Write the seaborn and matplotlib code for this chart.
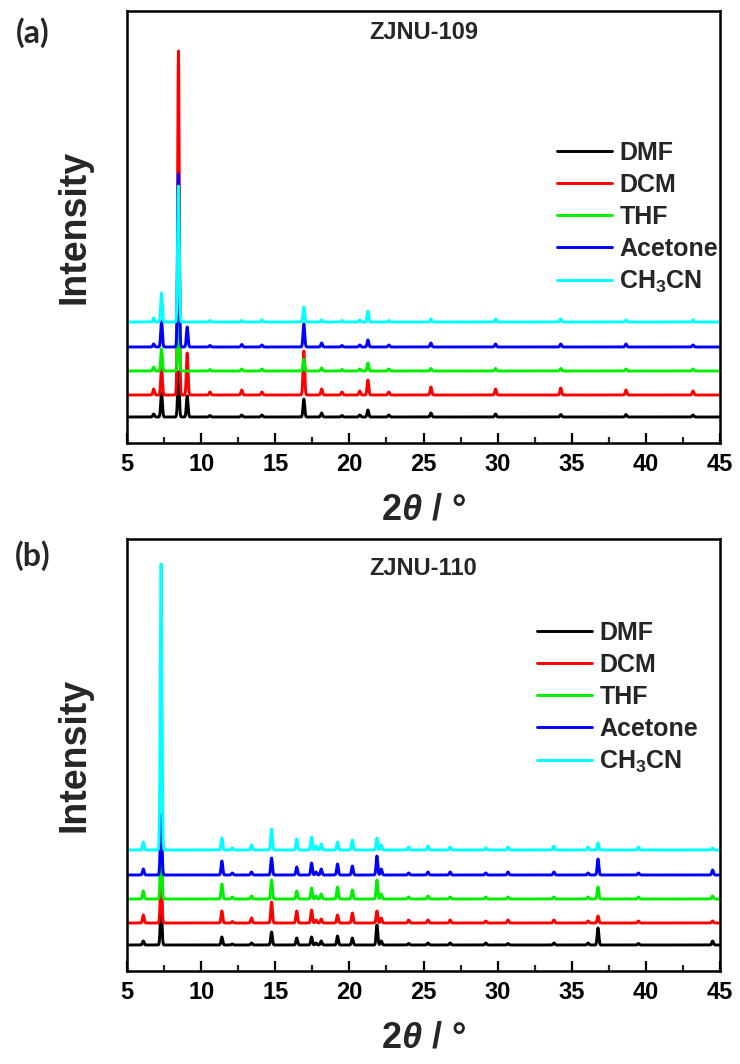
import numpy as np
import pandas as pd
import matplotlib
matplotlib.use("Agg")
import matplotlib.pyplot as plt
import seaborn as sns

# ---------------------------------------------------------------------------
# PXRD patterns of ZJNU-109 and ZJNU-110 after soaking in different solvents.
# Each pattern is described by its reflections: 2-theta position (deg) and
# peak height (arbitrary units, same scale as the stacked offsets).
# ---------------------------------------------------------------------------
solvents = ["DMF", "DCM", "THF", "Acetone", "CH3CN"]
legend_labels = ["DMF", "DCM", "THF", "Acetone", r"CH$_\mathbf{3}$CN"]
colors = ["#000000", "#FF0000", "#00F000", "#0000FF", "#00FFFF"]

# vertical offsets of the stacked traces
offsets = [26, 48, 72, 96, 121]

# --- ZJNU-109 -------------------------------------------------------------
pos_109 = [6.8, 7.33, 8.47, 9.06, 10.6, 12.74, 14.1, 16.93, 18.13, 19.5,
           20.7, 21.25, 22.66, 25.5, 29.86, 34.26, 38.66, 43.18]
h109_dmf = [3, 24, 45, 21, 1.5, 2, 2, 18, 4, 1.5, 2, 7, 2, 4, 3, 2.5, 2.5, 2]
h109_dcm = [6, 27, 344, 42, 3, 5, 3, 44, 6, 3, 4, 15, 3, 8, 6, 7, 5, 4]
h109_thf = [4, 22, 60, 0, 1.5, 2, 2, 12, 3, 1.5, 2, 8, 2, 2.5, 2.5, 2.5, 2, 2]
h109_ace = [3, 26, 173, 20, 1.5, 2.5, 2, 23, 4, 1.5, 2, 7, 2, 4, 3, 3, 3, 2]
h109_mecn = [4, 29, 136, 0, 1.5, 1.5, 2, 15, 2, 1.5, 2, 11, 1.5, 3, 3, 3, 2, 2]

# --- ZJNU-110 -------------------------------------------------------------
pos_110 = [6.1, 7.3, 11.4, 12.1, 13.4, 14.75, 16.45, 17.45, 17.75, 18.1,
           19.2, 20.2, 21.86, 22.15, 24.0, 25.3, 26.8, 29.2, 30.7, 33.8,
           36.1, 36.77, 39.5, 44.5]
h110_dmf = [4, 40, 8, 1, 2, 13, 7, 8, 2, 4, 9, 7, 20, 4, 1.5, 2, 2, 2, 1.5,
            2, 2, 17, 1.5, 4]
h110_dcm = [8, 50, 12, 1.5, 5, 21, 12, 13, 3, 4, 8, 10, 12, 5, 3, 3, 3, 2,
            3, 3, 2, 7, 2, 2]
h110_thf = [8, 60, 15, 2, 3, 19, 8, 11, 3, 5, 12, 9, 19, 5, 2, 3, 2, 2, 2,
            2, 2, 12, 2, 3]
h110_ace = [6, 60, 14, 2, 3, 17, 8, 12, 3, 6, 11, 9, 19, 6, 2, 3, 3, 2, 3,
            3, 2, 16, 2, 5]
h110_mecn = [8, 286, 12, 2, 5, 21, 11, 13, 4, 6, 8, 10, 12, 5, 3, 4, 3, 2, 3,
             4, 3, 7, 3, 2]

two_theta = np.arange(5.0, 45.0001, 0.01)
PEAK_SIGMA = 0.055


def pattern(positions, heights, offset):
    """Sum of narrow Gaussian reflections on a flat baseline."""
    y = np.full_like(two_theta, float(offset))
    for p, h in zip(positions, heights):
        y += h * np.exp(-0.5 * ((two_theta - p) / PEAK_SIGMA) ** 2)
    return y


def long_frame(positions, height_sets):
    frames = []
    for name, hs, off in zip(solvents, height_sets, offsets):
        frames.append(pd.DataFrame({"two_theta": two_theta,
                                    "intensity": pattern(positions, hs, off),
                                    "solvent": name}))
    return pd.concat(frames, ignore_index=True)


df109 = long_frame(pos_109, [h109_dmf, h109_dcm, h109_thf, h109_ace, h109_mecn])
df110 = long_frame(pos_110, [h110_dmf, h110_dcm, h110_thf, h110_ace, h110_mecn])

# ---------------------------------------------------------------------------
sns.set_theme(style="white")
plt.rcParams["font.family"] = ["Liberation Sans", "DejaVu Sans"]
plt.rcParams["font.weight"] = "bold"
plt.rcParams["mathtext.fontset"] = "custom"
plt.rcParams["mathtext.rm"] = "Liberation Sans:bold"
plt.rcParams["mathtext.bf"] = "Liberation Sans:bold"
plt.rcParams["mathtext.it"] = "Liberation Sans:italic:bold"

W, H = 740, 1064
fig = plt.figure(figsize=(W / 100, H / 100), dpi=100)


def px_axes(left, top, width, height):
    return fig.add_axes([left / W, 1 - (top + height) / H, width / W, height / H])


panels = [
    (px_axes(127, 11, 593, 432), df109, "ZJNU-109", 0.951, (0.725, 0.700)),
    (px_axes(127, 539, 593, 432), df110, "ZJNU-110", 0.931, (0.691, 0.811)),
]

for ax, df, title, title_y, leg_xy in panels:
    sns.lineplot(data=df, x="two_theta", y="intensity", hue="solvent",
                 hue_order=solvents, palette=colors, linewidth=2.1,
                 estimator=None, sort=False, legend=False, ax=ax)
    ax.set_xlim(5, 45)
    ax.set_ylim(0, 432)
    ax.set_xticks(np.arange(5, 46, 5))
    ax.set_xticks(np.arange(7.5, 45, 5), minor=True)
    ax.set_yticks([])
    ax.tick_params(axis="x", which="major", direction="in", length=7.5,
                   width=1.6, pad=7, labelsize=17, colors="black", bottom=True)
    ax.tick_params(axis="x", which="minor", direction="in", length=4.5,
                   width=1.6, bottom=True)
    for lbl in ax.get_xticklabels():
        lbl.set_fontweight("bold")
    for sp in ax.spines.values():
        sp.set_visible(True)
        sp.set_color("black")
        sp.set_linewidth(1.8)

    ax.set_xlabel(r"2$\mathit{\theta}$ / °", fontsize=26, fontweight="bold")
    ax.xaxis.set_label_coords(0.5, -0.115)
    ax.set_ylabel("Intensity", fontsize=27, fontweight="bold")
    ax.yaxis.set_label_coords(-0.059, 0.5)

    ax.text(0.5, title_y, title, transform=ax.transAxes, ha="center",
            va="center", fontsize=17, fontweight="bold")

    handles = ax.get_lines()[:len(solvents)]
    ax.legend(handles, legend_labels, loc="upper left", bbox_to_anchor=leg_xy,
              frameon=False, handlelength=2.2, handletextpad=0.3,
              labelspacing=0.32, borderpad=0, borderaxespad=0,
              prop={"weight": "bold", "size": 18})

fig.text(33 / W, 1 - 33 / H, "(a)", ha="center", va="center",
         fontsize=23, fontweight="bold", family=["Lato", "DejaVu Sans"])
fig.text(33 / W, 1 - 556 / H, "(b)", ha="center", va="center",
         fontsize=23, fontweight="bold", family=["Lato", "DejaVu Sans"])

fig.savefig("out.png", dpi=100)
